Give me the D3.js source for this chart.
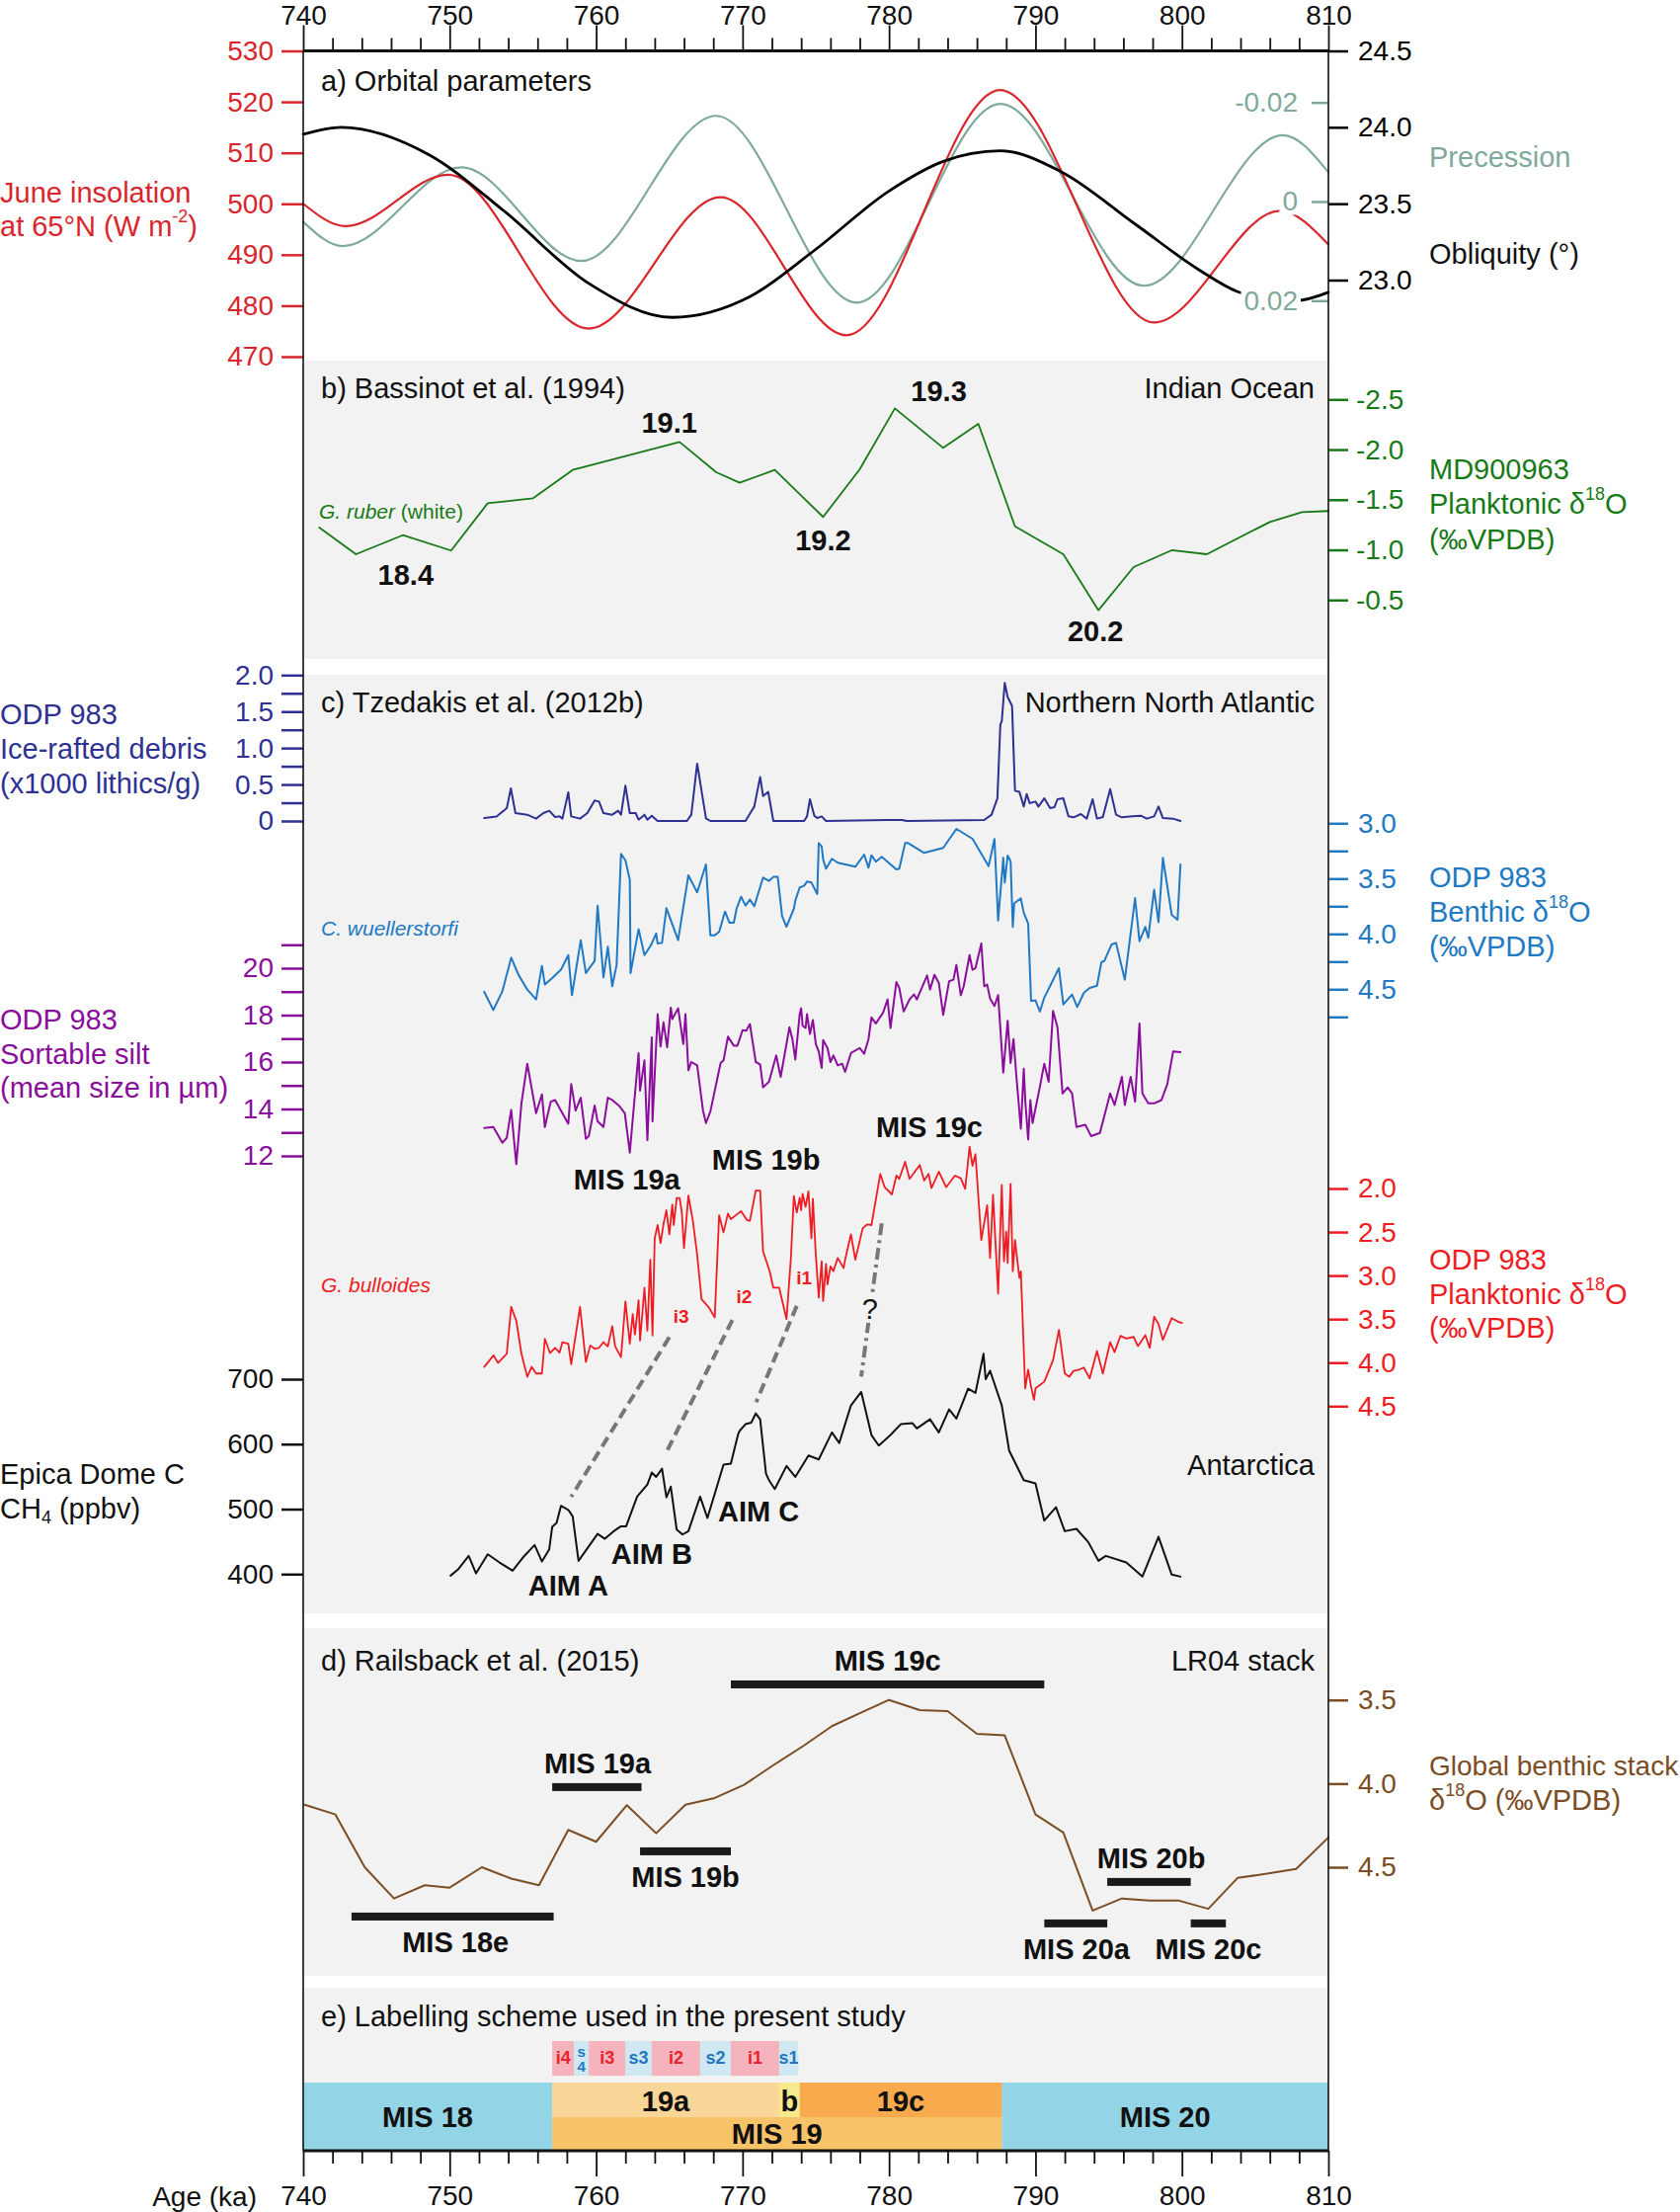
<!DOCTYPE html>
<html><head><meta charset="utf-8">
<script src="https://cdn.jsdelivr.net/npm/d3@7"></script>
<style>
body{margin:0;background:#fff;}
svg{display:block;}
</style></head><body>
<svg id="c" width="1701" height="2239"></svg>
<script>
// ---------------- DATA ----------------
const ageTicksMajor = [740,750,760,770,780,790,800,810];
const insolation = [[740,500],[742.9,495.6],[749.9,505.7],[759.5,475.5],[768.5,501.3],[777.1,474.2],[787.6,522.3],[798.1,476.7],[806.7,498.6],[810,492]];
const precession = [[740,0.0041],[742.7,0.0090],[750.8,-0.0069],[759.0,0.0120],[768.2,-0.0173],[777.8,0.0204],[787.6,-0.0197],[797.4,0.0170],[806.9,-0.0134],[810,-0.0059]];
const obliquity = [[740,23.954],[742.6,24.0],[748.6,23.82],[753.7,23.453],[759.5,22.978],[765.2,22.756],[770.5,22.892],[774.9,23.194],[780.0,23.583],[783.7,23.777],[787.6,23.846],[791.7,23.712],[796.8,23.367],[801.2,23.065],[803.8,22.924],[806,22.88],[807.8,22.866],[810,22.92]];
const md900963 = [[741.1,-1.222],[743.6,-0.956],[746.8,-1.146],[750.1,-0.993],[752.6,-1.465],[755.7,-1.515],[758.4,-1.797],[765.7,-2.076],[768.2,-1.774],[769.8,-1.669],[772.2,-1.797],[775.5,-1.328],[778.0,-1.803],[780.4,-2.411],[783.7,-2.017],[786.1,-2.257],[788.6,-1.235],[791.9,-0.956],[794.3,-0.398],[796.7,-0.828],[799.3,-0.996],[801.7,-0.956],[806.0,-1.278],[808.2,-1.377],[810,-1.387]];
const ird = [[752.36,0.04],[753.2,0.06],[753.9,0.176],[754.18,0.447],[754.49,0.108],[755.3,0.086],[755.9,0.032],[756.4,0.108],[756.8,0.14],[757.2,0.054],[757.5,0.063],[757.7,0.032],[758.1,0.393],[758.3,0.063],[758.9,0.032],[759.4,0.108],[759.9,0.28],[760.2,0.266],[760.5,0.108],[761.1,0.086],[761.5,0.14],[761.7,0.086],[762.0,0.483],[762.3,0.108],[762.7,0.108],[762.9,0.018],[763.3,0.086],[763.5,0.018],[763.8,0.072],[764.2,0],[766.2,0],[766.5,0.086],[766.9,0.786],[767.5,0.036],[767.8,0],[770.2,0],[770.8,0.198],[771.2,0.604],[771.4,0.343],[771.75,0.4],[772.1,0],[774.2,0],[774.4,0.063],[774.6,0.298],[774.9,0.072],[775.1,0.04],[775.4,0.063],[775.7,0],[779.9,0.014],[780.9,0.014],[781.2,0],[786.5,0.014],[787.0,0.086],[787.4,0.31],[787.6,1.32],[787.7,1.37],[787.9,1.894],[788.1,1.699],[788.4,1.577],[788.6,0.415],[788.9,0.4],[789.0,0.334],[789.2,0.198],[789.4,0.37],[789.6,0.244],[790.0,0.266],[790.2,0.198],[790.6,0.31],[791.0,0.176],[791.3,0.19],[791.5,0.298],[791.9,0.31],[792.25,0.063],[792.6,0.05],[793.1,0.095],[793.5,0.032],[793.9,0.298],[794.2,0.032],[794.6,0.054],[795.1,0.438],[795.5,0.086],[795.9,0.05],[796.6,0.063],[797.2,0.072],[797.6,0.032],[798.1,0.063],[798.4,0.198],[798.7,0.04],[799.4,0.032],[799.9,0]];
const benthic = [[752.36,4.524],[752.98,4.688],[753.6,4.518],[754.2,4.215],[754.7,4.369],[755.3,4.503],[755.9,4.592],[756.3,4.289],[756.5,4.458],[757.0,4.399],[757.6,4.324],[758.1,4.191],[758.35,4.554],[758.95,4.057],[759.3,4.354],[759.9,4.244],[760.1,3.744],[760.5,4.393],[760.8,4.116],[761.1,4.473],[761.4,4.28],[761.7,3.277],[762.0,3.334],[762.3,3.512],[762.35,4.354],[762.9,3.958],[763.3,4.191],[763.75,4.101],[764.1,3.997],[764.2,4.087],[764.5,4.081],[764.8,3.768],[765.6,4.057],[766.3,3.47],[766.9,3.625],[767.5,3.372],[767.8,4.012],[768.1,4.012],[768.4,3.982],[768.8,3.798],[769.1,3.899],[769.4,3.899],[769.6,3.768],[769.9,3.664],[770.2,3.744],[770.5,3.69],[770.8,3.75],[771.4,3.491],[771.8,3.521],[772.1,3.485],[772.4,3.485],[772.7,3.839],[773.0,3.937],[773.5,3.774],[773.6,3.699],[773.9,3.58],[774.2,3.565],[774.4,3.527],[774.7,3.536],[775.1,3.64],[775.2,3.179],[775.4,3.208],[775.5,3.327],[775.7,3.411],[776.1,3.321],[776.5,3.357],[777.7,3.393],[778.3,3.283],[778.6,3.402],[778.8,3.289],[779.1,3.348],[779.5,3.304],[780.5,3.417],[780.7,3.411],[781.1,3.179],[781.3,3.179],[782.4,3.268],[783.7,3.223],[784.6,3.051],[785.7,3.14],[786.8,3.387],[787.2,3.143],[787.45,3.878],[787.8,3.313],[787.9,3.536],[788.1,3.292],[788.3,3.342],[788.45,3.937],[788.55,3.723],[789.0,3.679],[789.2,3.809],[789.5,3.908],[789.7,4.607],[790.0,4.601],[790.3,4.702],[790.6,4.577],[791.6,4.31],[791.9,4.637],[792.5,4.548],[792.85,4.661],[793.3,4.533],[793.7,4.488],[794.2,4.468],[794.5,4.256],[794.7,4.244],[795.2,4.095],[795.5,4.081],[796.1,4.414],[796.8,3.676],[797.1,4.066],[797.5,3.937],[797.7,4.036],[798.1,3.601],[798.4,3.893],[798.7,3.313],[799.3,3.827],[799.7,3.872],[799.9,3.372]];
const silt = [[752.36,13.19],[752.98,13.23],[753.6,12.56],[753.9,12.77],[754.2,13.96],[754.55,11.65],[754.9,14.24],[755.3,15.93],[755.9,13.82],[756.3,14.62],[756.5,13.23],[756.9,14.31],[757.2,14.38],[758.1,13.37],[758.3,15.06],[758.6,13.93],[758.95,14.48],[759.3,12.73],[759.5,12.84],[759.9,14.15],[760.1,13.47],[760.5,13.23],[760.8,14.48],[761.1,14.38],[761.55,14.15],[761.96,13.82],[762.3,12.14],[762.9,16.38],[763.0,14.78],[763.3,16.07],[763.5,12.67],[763.8,17.05],[763.85,13.47],[764.2,18.04],[764.4,16.66],[764.6,17.69],[764.85,16.63],[765.1,18.32],[765.2,17.83],[765.6,18.29],[765.95,16.77],[766.1,18.04],[766.3,15.65],[766.5,16.0],[766.9,15.86],[767.3,13.93],[767.5,13.4],[767.8,13.89],[768.5,15.96],[768.7,16.07],[769.0,17.08],[769.4,16.7],[769.65,16.7],[770.0,17.36],[770.25,17.34],[770.5,17.62],[770.9,16.0],[771.2,15.9],[771.4,14.92],[771.8,15.16],[772.3,16.28],[772.6,15.37],[773.2,17.48],[773.4,16.98],[773.6,16.11],[773.9,18.04],[774.0,18.29],[774.1,17.55],[774.3,17.45],[774.4,18.04],[774.6,17.2],[774.8,17.79],[775.0,16.77],[775.2,16.45],[775.4,15.75],[775.5,16.94],[775.8,16.59],[776.0,16.0],[776.2,16.28],[776.5,15.86],[776.8,15.93],[777.0,15.58],[777.4,16.38],[778.0,16.6],[778.3,16.35],[778.6,16.98],[778.8,17.9],[779.1,17.64],[779.6,18.11],[779.9,18.67],[780.1,17.45],[780.5,19.41],[780.7,19.16],[781.0,18.15],[781.4,18.67],[781.7,18.88],[781.9,18.67],[782.6,19.69],[782.8,19.09],[783.1,19.72],[783.4,19.37],[783.7,18.01],[784.1,19.44],[784.4,19.51],[784.6,20.14],[784.9,18.85],[785.1,19.23],[785.5,20.56],[785.7,19.93],[785.9,20.0],[786.3,21.05],[786.5,19.23],[786.7,19.3],[786.9,18.71],[787.2,18.39],[787.45,18.85],[787.8,15.55],[788.1,17.76],[788.3,15.96],[788.5,16.98],[788.7,15.37],[789.0,13.16],[789.2,15.72],[789.3,14.38],[789.5,12.7],[789.65,14.38],[789.8,13.4],[790.3,14.94],[790.6,15.93],[790.9,15.16],[791.2,18.18],[791.5,17.48],[791.85,14.66],[792.2,14.92],[792.5,14.66],[792.8,13.23],[793.4,13.33],[793.8,12.84],[794.4,12.98],[795.1,14.66],[795.4,14.17],[795.9,15.37],[796.1,14.17],[796.5,15.37],[796.8,14.31],[797.1,17.64],[797.3,14.66],[797.7,14.24],[798.1,14.24],[798.6,14.38],[799.0,15.06],[799.4,16.45],[799.9,16.42]];
const planktonic = [[752.36,4.049],[753.0,3.917],[753.3,4.004],[753.9,3.898],[754.2,3.36],[754.55,3.519],[754.9,3.898],[755.3,4.163],[755.6,4.049],[755.9,4.125],[756.3,4.125],[756.5,3.727],[756.85,3.89],[757.2,3.83],[757.5,3.886],[757.7,3.765],[758.1,3.784],[758.3,4.019],[758.9,3.36],[759.3,3.992],[759.6,3.803],[759.9,3.841],[760.2,3.83],[760.5,3.765],[760.8,3.814],[761.1,3.583],[761.3,3.814],[761.7,3.936],[762.0,3.299],[762.3,3.784],[762.5,3.443],[762.65,3.678],[762.9,3.284],[763.0,3.746],[763.3,3.14],[763.5,3.633],[763.7,2.818],[763.85,3.689],[764.0,2.572],[764.2,2.42],[764.4,2.629],[764.6,2.409],[764.8,2.25],[765.0,2.527],[765.2,2.186],[765.3,2.42],[765.5,2.11],[765.7,2.11],[765.85,2.269],[766.0,2.686],[766.3,2.08],[766.6,2.364],[766.9,2.761],[767.2,3.273],[767.7,3.367],[768.1,3.481],[768.4,2.307],[768.7,2.504],[769.0,2.288],[769.2,2.352],[769.6,2.299],[769.9,2.261],[770.3,2.364],[770.5,2.371],[770.9,2.023],[771.2,2.023],[771.4,2.723],[771.85,2.951],[772.1,3.14],[772.5,3.14],[773.0,3.5],[773.3,2.799],[773.5,2.087],[773.7,2.277],[773.9,2.106],[774.0,2.25],[774.1,2.061],[774.3,2.212],[774.5,2.034],[774.7,2.572],[774.8,2.117],[775.0,2.761],[775.2,3.254],[775.4,2.837],[775.5,3.292],[775.7,2.867],[775.8,3.102],[776.0,2.894],[776.2,2.951],[776.5,2.799],[776.9,2.913],[777.0,2.818],[777.4,2.527],[777.7,2.818],[778.2,2.458],[778.5,2.413],[778.8,2.42],[779.4,1.833],[779.7,1.985],[780.2,2.068],[780.5,1.852],[780.7,1.89],[781.1,1.693],[781.4,1.89],[782.1,1.731],[782.4,1.909],[782.7,1.833],[782.9,1.996],[783.4,1.807],[783.9,1.985],[784.5,1.852],[784.9,1.883],[785.2,2.004],[785.5,1.519],[785.7,1.739],[785.9,1.606],[786.3,2.591],[786.7,2.193],[786.9,2.799],[787.1,2.072],[787.45,3.208],[787.7,1.958],[787.85,2.837],[788.0,2.496],[788.1,2.856],[788.3,1.947],[788.45,2.951],[788.6,2.591],[788.9,3.027],[789.0,2.951],[789.3,4.296],[789.5,4.08],[789.7,4.277],[789.9,4.428],[790.0,4.296],[790.6,4.22],[791.2,3.974],[791.6,3.625],[792.0,4.125],[792.3,4.163],[792.6,4.095],[793.0,4.08],[793.3,4.057],[793.7,4.182],[794.2,3.867],[794.6,4.125],[795.1,3.765],[795.4,3.879],[795.8,3.693],[796.2,3.723],[796.7,3.705],[797.0,3.811],[797.5,3.686],[797.8,3.83],[798.1,3.473],[798.4,3.557],[798.7,3.739],[799.3,3.489],[799.7,3.527],[800.0,3.545]];
const ch4 = [[750.06,397.6],[750.6,407.7],[751.3,428.0],[751.8,401.1],[752.6,430.5],[753.4,417.9],[754.3,405.2],[755.0,425.5],[755.8,444.7],[756.3,419.4],[756.8,438.1],[757.0,472.6],[757.3,478.6],[757.6,505.0],[758.1,498.9],[758.4,488.8],[758.8,420.4],[760.1,461.9],[760.6,454.3],[761.2,466.0],[761.7,473.6],[762.05,473.6],[762.8,519.2],[763.5,537.9],[763.8,556.2],[764.1,549.6],[764.5,562.2],[764.8,518.2],[765.1,534.4],[765.5,468.5],[765.9,460.9],[766.3,466.0],[767.1,519.2],[767.6,486.3],[768.7,568.4],[769.2,569.9],[769.7,615.5],[769.8,620.5],[770.2,630.7],[770.6,633.2],[770.9,647.4],[771.2,638.3],[771.6,554.7],[771.8,544.6],[772.2,530.9],[773.0,566.4],[773.6,549.6],[774.5,582.6],[775.2,576.5],[776.1,618.0],[776.6,601.8],[777.4,659.6],[778.1,680.3],[778.8,614.0],[779.3,597.7],[780.1,614.0],[780.8,630.7],[781.6,632.2],[781.9,624.1],[782.8,638.3],[783.4,618.0],[784.1,653.5],[784.6,639.3],[785.4,685.4],[785.9,678.8],[786.45,739],[786.6,700],[786.9,713],[787.7,659.6],[788.2,590.2],[789.2,544.6],[790.0,539.5],[790.6,482.3],[791.4,503.0],[792.0,466.0],[792.8,469.6],[793.6,449.3],[794.3,420.4],[794.8,428.0],[796.2,417.9],[797.3,396.1],[798.4,457.4],[799.3,399.2],[799.9,396.1]];
const lr04 = [[740.1,4.126],[742.2,4.185],[744.2,4.5],[746.2,4.687],[748.3,4.608],[750.0,4.622],[752.2,4.5],[754.2,4.568],[756.1,4.608],[758.1,4.277],[760.0,4.348],[762.1,4.129],[764.1,4.297],[766.1,4.126],[768.1,4.086],[770.1,4.008],[772.1,3.89],[774.2,3.772],[776.1,3.657],[778.0,3.579],[780.0,3.5],[782.1,3.561],[784.0,3.567],[786.0,3.703],[787.9,3.712],[790.0,4.185],[791.9,4.293],[793.9,4.759],[795.9,4.687],[797.8,4.7],[799.8,4.7],[801.8,4.749],[803.8,4.564],[805.8,4.539],[807.8,4.51],[810,4.322]];
// Railsback substage bars: [label, startKa, endKa, level(δ18O row), labelKa, labelSide]
const railsbackBars = [["MIS 19c",769.2,790.6,3.407,779.9,"above"],["MIS 19a",757.0,763.1,4.021,760.1,"above"],["MIS 19b",763.0,769.2,4.405,766.1,"below"],["MIS 18e",743.3,757.1,4.795,750.4,"below"],["MIS 20b",794.9,800.6,4.588,797.9,"above"],["MIS 20a",790.6,794.9,4.836,792.8,"below"],["MIS 20c",800.6,803.0,4.836,801.8,"below"]];
// connectors: [planktonic ka, δ18O] -> [CH4 ka, ppbv]
const connectors = [[765.0,3.708,758.3,519],[769.3,3.511,764.7,583],[773.7,3.349,770.93,664.6],[779.5,2.401,778.1,704]];
const subStages = [["i4",757.0,758.5],["s4",758.5,759.5],["i3",759.5,762.0],["s3",762.0,763.8],["i2",763.8,767.1],["s2",767.1,769.2],["i1",769.2,772.5],["s1",772.5,773.8]];
const stagesFull = [["MIS 18",740,757],["MIS 20",787.7,810]];
const stagesTop = [["19a",757,772.5],["b",772.5,773.9],["19c",773.9,787.7]];
const stagesBottom = [["MIS 19",757,787.7]];
const peakLabelsB = [["19.1",765.0,-2.267],["19.3",783.4,-2.582],["19.2",775.5,-1.094],["18.4",747.0,-0.749],["20.2",794.1,-0.188]];
const misLabelsC = [["MIS 19a",762.1,1.898],["MIS 19b",771.6,1.67],["MIS 19c",782.75,1.295]];
const iLabelsC = [["i3",765.8,3.466],["i2",770.1,3.239],["i1",774.2,3.023]];
const aimLabels = [["AIM A",758.1,382],["AIM B",763.8,431],["AIM C",771.1,496.4]];

// ---------------- DRAW ----------------
const FF = '"Liberation Sans", Arial, Helvetica, sans-serif';
const FS = 29;     // text labels
const TS = 28;     // tick labels
const svg = d3.select("#c").attr("font-family", FF);
const XL = 307, XR = 1345;
const x = d3.scaleLinear([740,810],[XL,XR]);

const C = {ins:"#d9262c", prec:"#7fa99c", obl:"#000", green:"#177a17", ird:"#2e3192", ben:"#2179c3", silt:"#8a0e9b", pl:"#ee1d24", ch4:"#111", lr:"#7b4d24"};

const yIns = d3.scaleLinear([470,530],[361,51.5]);
const yObl = d3.scaleLinear([23,24.5],[283.5,51.5]);
const yPrec = d3.scaleLinear([-0.02,0.02],[103.7,304.3]);
const yB = d3.scaleLinear([-2.5,-0.5],[404.3,607.3]);
const yIRD = d3.scaleLinear([0,2],[831,683.3]);
const yBen = d3.scaleLinear([3,4.5],[833.3,1001.3]);
const ySilt = d3.scaleLinear([12,20],[1170,980]);
const yPl = d3.scaleLinear([2,4.5],[1203,1423.3]);
const yCH4 = d3.scaleLinear([400,700],[1593.3,1396]);
const yLR = d3.scaleLinear([3.5,4.5],[1720.7,1890]);

// backgrounds
const panelsBg = [[365,667],[683,1633],[1648,2000],[2012,2176]];
svg.selectAll("rect.bg").data(panelsBg).join("rect").attr("class","bg")
  .attr("x",XL).attr("width",XR-XL).attr("y",d=>d[0]).attr("height",d=>d[1]-d[0]).attr("fill","#f2f2f2");

function line(data, ys, color, w, curve){
  svg.append("path").datum(data)
    .attr("d", d3.line().x(d=>x(d[0])).y(d=>ys(d[1])).curve(curve||d3.curveLinear))
    .attr("fill","none").attr("stroke",color).attr("stroke-width",w)
    .attr("stroke-linejoin","round").attr("stroke-linecap","round");
}

function rich(px,py,parts,o={}){
  const size=o.size||FS;
  const t=svg.append("text").attr("x",px).attr("y",py).attr("fill",o.color||"#111")
    .attr("font-size",size).attr("text-anchor",o.anchor||"start")
    .attr("font-weight",o.weight||"normal").attr("dominant-baseline","central");
  if(o.halo) t.attr("stroke",o.halo).attr("stroke-width",o.haloW||7).attr("paint-order","stroke").attr("stroke-linejoin","round");
  let shift=0;
  parts.forEach(p=>{
    const [s,m]=Array.isArray(p)?p:[p,""];
    const ts=t.append("tspan").text(s);
    const target = m==="sup"? -0.36*size : m==="sub"? 0.3*size : 0;
    if(target-shift!==0) ts.attr("dy",target-shift);
    shift=target;
    if(m==="sup"||m==="sub") ts.attr("font-size",size*0.62);
    if(m==="i") ts.attr("font-style","italic");
  });
  return t;
}

// Panel a curves
line(precession, yPrec, C.prec, 2.2, d3.curveMonotoneX);
line(insolation, yIns, C.ins, 2.2, d3.curveMonotoneX);
line(obliquity, yObl, C.obl, 2.8, d3.curveMonotoneX);
// Panel b
line(md900963, yB, C.green, 1.8);
// Panel c
line(ird, yIRD, C.ird, 2);
line(benthic, yBen, C.ben, 2);
line(silt, ySilt, C.silt, 2);
line(planktonic, yPl, C.pl, 1.8);
line(ch4, yCH4, C.ch4, 2);
// connectors
connectors.forEach((c,i)=>{
  svg.append("line").attr("x1",x(c[0])).attr("y1",yPl(c[1])).attr("x2",x(c[2])).attr("y2",yCH4(c[3]))
    .attr("stroke","#777").attr("stroke-width",4)
    .attr("stroke-dasharray", i===3? "12,5,3,5" : "11,6");
});
// Panel d
line(lr04, yLR, C.lr, 2);
svg.selectAll("rect.rb").data(railsbackBars).join("rect").attr("class","rb")
  .attr("x",d=>x(d[1])).attr("width",d=>x(d[2])-x(d[1]))
  .attr("y",d=>yLR(d[3])-4).attr("height",8).attr("fill","#1a1a1a");
railsbackBars.forEach(d=>{
  rich(x(d[4]), yLR(d[3]) + (d[5]==="above"? -24 : 26), [d[0]], {anchor:"middle", weight:"bold"});
});

// Panel e
const eTop=2108, eMid=2143, eBot=2176;
const subColor = s => s[0]==="i" ? "#f5b3be" : "#cfe8f1";
svg.selectAll("rect.sub").data(subStages).join("rect").attr("class","sub")
  .attr("x",d=>x(d[1])).attr("width",d=>x(d[2])-x(d[1])).attr("y",2066).attr("height",35)
  .attr("fill",d=>subColor(d[0]));
subStages.forEach(d=>{
  const col = d[0][0]==="i" ? "#e8232b" : "#1f78c1";
  const cx = (x(d[1])+x(d[2]))/2;
  if(d[0]==="s4"){
    rich(cx, 2076, ["s"], {anchor:"middle", weight:"bold", size:15, color:col});
    rich(cx, 2091, ["4"], {anchor:"middle", weight:"bold", size:15, color:col});
  } else {
    rich(cx, 2083, [d[0]], {anchor:"middle", weight:"bold", size:18, color:col});
  }
});
const stageColors = {"MIS 18":"#93d4e6","MIS 20":"#93d4e6","19a":"#f9d597","b":"#f8e98c","19c":"#f8aa4c","MIS 19":"#f6c369"};
svg.selectAll("rect.sf").data(stagesFull).join("rect").attr("x",d=>x(d[1])).attr("width",d=>x(d[2])-x(d[1])).attr("y",eTop).attr("height",eBot-eTop).attr("fill",d=>stageColors[d[0]]);
svg.selectAll("rect.st").data(stagesTop).join("rect").attr("x",d=>x(d[1])).attr("width",d=>x(d[2])-x(d[1])).attr("y",eTop).attr("height",eMid-eTop).attr("fill",d=>stageColors[d[0]]);
svg.selectAll("rect.sb").data(stagesBottom).join("rect").attr("x",d=>x(d[1])).attr("width",d=>x(d[2])-x(d[1])).attr("y",eMid).attr("height",eBot-eMid).attr("fill",d=>stageColors[d[0]]);
stagesFull.forEach(d=>rich(x((d[1]+d[2])/2), 2143, [d[0]], {anchor:"middle", weight:"bold"}));
stagesTop.forEach(d=>rich(x((d[1]+d[2])/2), 2127, [d[0]], {anchor:"middle", weight:"bold"}));
stagesBottom.forEach(d=>rich(x((d[1]+d[2])/2), 2160, [d[0]], {anchor:"middle", weight:"bold"}));

// ---------------- AXES ----------------
function yAxis(kind, scale, xpos, ticks, labeled, color, len, pad, fmt, knock){
  const a=(kind==="left"?d3.axisLeft(scale):d3.axisRight(scale))
    .tickValues(ticks).tickSize(len).tickPadding(pad)
    .tickFormat(d=>labeled.some(v=>Math.abs(v-d)<1e-9)?fmt(d):"");
  const g=svg.append("g").attr("transform",`translate(${xpos},0)`).call(a)
    .attr("font-size",TS).attr("font-family",FF).attr("color",color);
  g.select(".domain").remove();
  g.selectAll(".tick line").attr("stroke-width",2.5);
  if(knock){
    g.selectAll(".tick").each(function(){
      const t=d3.select(this).select("text");
      if(!t.text()) return;
      const b=t.node().getBBox();
      d3.select(this).insert("rect","text").attr("x",b.x-3).attr("y",b.y+2).attr("width",b.width+6).attr("height",b.height-4).attr("fill","#fff");
    });
  }
  return g;
}
const f1 = d=>d.toFixed(1);
const fint = d=>String(d);
yAxis("left", yIns, XL, d3.range(470,531,10), d3.range(470,531,10), C.ins, 22, 8, fint);
yAxis("right", yObl, XR, [23,23.5,24,24.5], [23,23.5,24,24.5], C.obl, 20, 10, f1);
yAxis("left", yPrec, XR, [-0.02,0,0.02], [-0.02,0,0.02], C.prec, 17, 14, d=>d===0?"0":d.toFixed(2), true);
yAxis("right", yB, XR, [-2.5,-2,-1.5,-1,-0.5], [-2.5,-2,-1.5,-1,-0.5], C.green, 20, 8, f1);
yAxis("left", yIRD, XL, d3.range(0,2.01,0.25), [0,0.5,1,1.5,2], C.ird, 22, 8, d=>d===0?"0":d.toFixed(1));
yAxis("right", yBen, XR, [3,3.25,3.5,3.75,4,4.25,4.5,4.75], [3,3.5,4,4.5], C.ben, 20, 10, f1);
yAxis("left", ySilt, XL, d3.range(12,22,1), [12,14,16,18,20], C.silt, 22, 8, fint);
yAxis("right", yPl, XR, [2,2.5,3,3.5,4,4.5], [2,2.5,3,3.5,4,4.5], C.pl, 20, 10, f1);
yAxis("left", yCH4, XL, [400,500,600,700], [400,500,600,700], C.ch4, 22, 8, fint);
yAxis("right", yLR, XR, [3.5,4,4.5], [3.5,4,4.5], C.lr, 20, 10, f1);

// top & bottom age axes
function ageAxis(kind, ypos){
  const minor = d3.range(742,810,2).filter(v=>v%10!==0);
  const mk = kind==="top"? d3.axisTop : d3.axisBottom;
  const g1 = svg.append("g").attr("transform",`translate(0,${ypos})`)
    .call(mk(x).tickValues(ageTicksMajor).tickSize(26).tickPadding(kind==="top"?1:9).tickFormat(d3.format("d")))
    .attr("font-size",TS).attr("font-family",FF).attr("color","#111");
  g1.select(".domain").remove();
  g1.selectAll(".tick line").attr("stroke-width",1.8);
  const g2 = svg.append("g").attr("transform",`translate(0,${ypos})`)
    .call(mk(x).tickValues(minor).tickSize(13).tickFormat(""));
  g2.select(".domain").remove();
  g2.selectAll(".tick line").attr("stroke","#111").attr("stroke-width",1.8);
  svg.append("line").attr("x1",XL).attr("x2",XR).attr("y1",ypos).attr("y2",ypos).attr("stroke","#111").attr("stroke-width",3);
}
ageAxis("top", 51.5);
ageAxis("bottom", 2177);
rich(260, 2223, ["Age (ka)"], {anchor:"end", size:TS});

// frame verticals
svg.append("line").attr("x1",XL).attr("x2",XL).attr("y1",51.5).attr("y2",2177).attr("stroke","#111").attr("stroke-width",1.6);
svg.append("line").attr("x1",XR).attr("x2",XR).attr("y1",51.5).attr("y2",2177).attr("stroke","#111").attr("stroke-width",1.6);

// ---------------- TEXT ----------------
rich(325, 82, ["a) Orbital parameters"]);
rich(325, 393, ["b) Bassinot et al. (1994)"]);
rich(1331, 393, ["Indian Ocean"], {anchor:"end"});
rich(325, 711, ["c) Tzedakis et al. (2012b)"]);
rich(1331, 711, ["Northern North Atlantic"], {anchor:"end"});
rich(1331, 1483, ["Antarctica"], {anchor:"end"});
rich(325, 1681, ["d) Railsback et al. (2015)"]);
rich(1331, 1681, ["LR04 stack"], {anchor:"end"});
rich(325, 2041, ["e) Labelling scheme used in the present study"]);

// left labels
rich(0, 195, ["June insolation"], {color:C.ins});
rich(0, 229, ["at 65°N (W m", ["-2","sup"], ")"], {color:C.ins});
rich(0, 723, ["ODP 983"], {color:C.ird});
rich(0, 758, ["Ice-rafted debris"], {color:C.ird});
rich(0, 793, ["(x1000 lithics/g)"], {color:C.ird});
rich(0, 1032, ["ODP 983"], {color:C.silt});
rich(0, 1067, ["Sortable silt"], {color:C.silt});
rich(0, 1101, ["(mean size in µm)"], {color:C.silt});
rich(0, 1492, ["Epica Dome C"], {color:"#111"});
rich(0, 1527, ["CH", ["4","sub"], " (ppbv)"], {color:"#111"});

// right labels
rich(1447, 159, ["Precession"], {color:C.prec});
rich(1447, 257, ["Obliquity (°)"], {color:"#111"});
rich(1447, 475, ["MD900963"], {color:C.green});
rich(1447, 510, ["Planktonic δ", ["18","sup"], "O"], {color:C.green});
rich(1447, 546, ["(‰VPDB)"], {color:C.green});
rich(1447, 888, ["ODP 983"], {color:C.ben});
rich(1447, 923, ["Benthic δ", ["18","sup"], "O"], {color:C.ben});
rich(1447, 958, ["(‰VPDB)"], {color:C.ben});
rich(1447, 1275, ["ODP 983"], {color:C.pl});
rich(1447, 1310, ["Planktonic δ", ["18","sup"], "O"], {color:C.pl});
rich(1447, 1344, ["(‰VPDB)"], {color:C.pl});
rich(1447, 1787, ["Global benthic stack"], {color:C.lr, size:28});
rich(1447, 1822, ["δ", ["18","sup"], "O (‰VPDB)"], {color:C.lr});

// species labels
rich(323, 517, [["G. ruber","i"], " (white)"], {color:C.green, size:21});
rich(325, 939, [["C. wuellerstorfi","i"]], {color:C.ben, size:21});
rich(325, 1300, [["G. bulloides","i"]], {color:C.pl, size:21});

// annotations
peakLabelsB.forEach(d=>rich(x(d[1]), yB(d[2]), [d[0]], {anchor:"middle", weight:"bold"}));
misLabelsC.forEach(d=>rich(x(d[1]), yPl(d[2]), [d[0]], {anchor:"middle", weight:"bold"}));
iLabelsC.forEach(d=>rich(x(d[1]), yPl(d[2]), [d[0]], {anchor:"middle", weight:"bold", size:19, color:C.pl}));
rich(x(778.7), yPl(3.386), ["?"], {anchor:"middle", halo:"#f2f2f2", haloW:8});
aimLabels.forEach(d=>rich(x(d[1]), yCH4(d[2]), [d[0]], {anchor:"middle", weight:"bold"}));
</script></body></html>
